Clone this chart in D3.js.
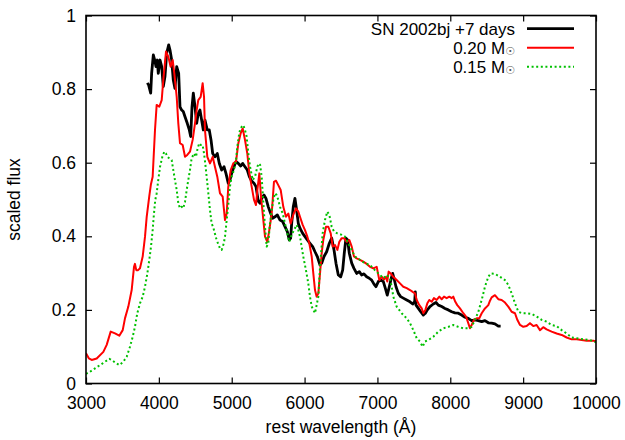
<!DOCTYPE html>
<html>
<head>
<meta charset="utf-8">
<script src="https://cdn.jsdelivr.net/npm/d3@7"></script>
<style>
  body { margin: 0; background: #fff; }
  text { font-family: "Liberation Sans", Arial, Helvetica, sans-serif; }
</style>
</head>
<body>
<svg id="chart" width="625" height="440"></svg>
<script>
// Axis ticks
const xTicks = [3000, 4000, 5000, 6000, 7000, 8000, 9000, 10000];
const yTicks = [0, 0.2, 0.4, 0.6, 0.8, 1];
const yTickLabels = ["0", "0.2", "0.4", "0.6", "0.8", "1"];

// Series names (legend)
const seriesNames = ["SN 2002bj +7 days", "0.20 M", "0.15 M"];

// Observed spectrum, SN 2002bj at +7 days
const obsWave = [3842,3860,3888,3901,3924,3943,3961,3979,3992,4016,4039,4061,4084,4107,4135,4153,4176,4198,4221,4245,4272,4290,4313,4335,4359,4390,4418,4437,4455,4473,4496,4519,4541,4564,4587,4610,4633,4665,4692,4716,4739,4770,4802,4830,4862,4894,4921,4953,4976,4999,5031,5059,5091,5123,5151,5182,5214,5242,5274,5306,5333,5365,5390,5411,5443,5470,5502,5535,5562,5594,5626,5663,5700,5731,5763,5790,5809,5823,5845,5868,5891,5914,5937,5974,6006,6038,6074,6111,6143,6175,6212,6235,6267,6303,6340,6372,6404,6431,6463,6496,6523,6545,6568,6591,6614,6647,6678,6715,6751,6783,6815,6852,6888,6921,6953,6980,7012,7045,7081,7108,7135,7163,7190,7209,7227,7255,7287,7319,7355,7402,7447,7484,7511,7520,7530,7562,7594,7630,7658,7685,7721,7767,7804,7836,7882,7927,7973,8019,8064,8110,8156,8202,8247,8293,8339,8385,8431,8476,8522,8568,8613,8659,8691];
const obsFlux = [0.817,0.811,0.789,0.843,0.893,0.879,0.861,0.879,0.843,0.879,0.861,0.807,0.834,0.897,0.920,0.906,0.879,0.825,0.802,0.861,0.843,0.752,0.743,0.739,0.725,0.707,0.689,0.671,0.752,0.789,0.752,0.707,0.734,0.743,0.716,0.689,0.716,0.689,0.689,0.662,0.625,0.616,0.625,0.598,0.580,0.589,0.571,0.544,0.553,0.571,0.589,0.603,0.598,0.591,0.598,0.589,0.580,0.562,0.550,0.544,0.535,0.495,0.490,0.503,0.512,0.503,0.480,0.462,0.449,0.453,0.458,0.444,0.440,0.426,0.413,0.390,0.395,0.435,0.480,0.503,0.471,0.435,0.422,0.408,0.399,0.390,0.381,0.372,0.358,0.345,0.322,0.327,0.345,0.358,0.381,0.395,0.363,0.327,0.295,0.290,0.308,0.354,0.395,0.390,0.354,0.327,0.313,0.299,0.304,0.295,0.298,0.290,0.286,0.281,0.270,0.263,0.277,0.281,0.277,0.259,0.240,0.263,0.286,0.299,0.286,0.263,0.245,0.236,0.232,0.227,0.222,0.216,0.222,0.249,0.213,0.204,0.195,0.186,0.191,0.200,0.209,0.216,0.220,0.213,0.209,0.204,0.200,0.195,0.192,0.191,0.186,0.180,0.177,0.171,0.173,0.171,0.168,0.171,0.165,0.164,0.162,0.156,0.156];

// Model spectrum, 0.20 solar masses
const m020Wave = [3000,3040,3078,3147,3238,3284,3339,3398,3457,3504,3535,3581,3627,3659,3672,3690,3715,3741,3778,3810,3833,3869,3890,3915,3947,3970,4006,4039,4061,4098,4130,4162,4190,4212,4245,4267,4290,4327,4359,4390,4427,4464,4496,4519,4541,4574,4601,4620,4633,4665,4702,4739,4770,4802,4839,4876,4908,4931,4953,4986,5022,5059,5091,5123,5151,5182,5214,5242,5274,5306,5333,5352,5379,5402,5434,5457,5489,5516,5549,5580,5608,5639,5672,5708,5745,5777,5809,5845,5882,5914,5937,5974,6006,6038,6065,6098,6120,6143,6166,6189,6212,6235,6257,6294,6326,6359,6386,6418,6450,6477,6510,6541,6578,6615,6647,6678,6715,6761,6806,6852,6898,6943,6990,7026,7058,7090,7117,7135,7154,7182,7217,7264,7310,7355,7402,7447,7484,7516,7539,7575,7608,7630,7658,7685,7712,7745,7776,7813,7850,7882,7914,7950,7987,8019,8041,8069,8096,8133,8179,8216,8247,8270,8293,8325,8362,8398,8431,8476,8522,8545,8568,8613,8659,8705,8751,8796,8842,8888,8920,8957,9002,9048,9094,9139,9185,9231,9276,9322,9391,9460,9529,9597,9666,9735,9803,9872,9963,10000];
const m020Flux = [0.082,0.068,0.064,0.068,0.086,0.105,0.141,0.136,0.130,0.145,0.177,0.209,0.254,0.317,0.325,0.308,0.308,0.313,0.345,0.399,0.453,0.510,0.540,0.562,0.689,0.757,0.752,0.770,0.825,0.902,0.888,0.861,0.879,0.843,0.779,0.707,0.653,0.648,0.616,0.621,0.630,0.662,0.707,0.743,0.770,0.779,0.816,0.779,0.689,0.616,0.598,0.616,0.589,0.562,0.517,0.508,0.444,0.462,0.535,0.580,0.598,0.603,0.653,0.680,0.693,0.662,0.625,0.571,0.535,0.499,0.485,0.526,0.571,0.508,0.444,0.399,0.385,0.417,0.462,0.548,0.551,0.539,0.526,0.480,0.453,0.462,0.435,0.458,0.476,0.467,0.453,0.431,0.417,0.399,0.381,0.345,0.299,0.254,0.236,0.245,0.299,0.354,0.390,0.426,0.426,0.408,0.372,0.376,0.363,0.385,0.395,0.395,0.385,0.390,0.372,0.345,0.340,0.336,0.331,0.325,0.317,0.313,0.317,0.281,0.290,0.283,0.290,0.277,0.304,0.299,0.290,0.281,0.272,0.263,0.259,0.254,0.249,0.245,0.227,0.213,0.204,0.191,0.200,0.218,0.227,0.222,0.232,0.227,0.236,0.229,0.236,0.232,0.236,0.232,0.236,0.222,0.213,0.204,0.191,0.182,0.164,0.150,0.159,0.173,0.177,0.177,0.191,0.204,0.213,0.225,0.234,0.240,0.229,0.227,0.220,0.209,0.195,0.191,0.173,0.159,0.154,0.156,0.164,0.156,0.159,0.145,0.153,0.147,0.141,0.136,0.132,0.125,0.120,0.120,0.118,0.116,0.116,0.115];

// Model spectrum, 0.15 solar masses
const m015Wave = [3000,3055,3124,3192,3261,3320,3353,3398,3457,3512,3559,3604,3641,3672,3704,3741,3778,3810,3842,3869,3892,3915,3933,3951,3970,3992,4016,4048,4075,4098,4116,4143,4176,4198,4221,4245,4267,4290,4313,4335,4359,4382,4404,4427,4450,4482,4509,4532,4555,4578,4601,4620,4637,4656,4679,4702,4724,4747,4793,4839,4862,4890,4908,4931,4953,4976,4999,5031,5059,5077,5096,5114,5137,5159,5182,5205,5228,5251,5288,5320,5352,5370,5390,5411,5434,5457,5480,5502,5525,5549,5571,5594,5617,5639,5663,5700,5731,5763,5790,5823,5855,5891,5914,5937,5960,5982,6019,6051,6074,6098,6143,6189,6212,6248,6280,6312,6340,6372,6404,6450,6510,6555,6600,6647,6692,6761,6829,6898,6966,7035,7081,7127,7172,7196,7218,7264,7333,7402,7447,7493,7539,7584,7621,7652,7698,7767,7836,7904,7973,8041,8110,8179,8247,8293,8339,8385,8431,8476,8522,8554,8613,8682,8751,8796,8842,8888,8934,8980,9048,9117,9185,9254,9322,9391,9460,9529,9597,9666,9735,9826,9918,10000];
const m015Flux = [0.026,0.032,0.041,0.050,0.059,0.067,0.064,0.057,0.050,0.059,0.073,0.100,0.127,0.154,0.191,0.218,0.236,0.263,0.299,0.336,0.372,0.417,0.462,0.499,0.517,0.553,0.589,0.616,0.630,0.625,0.616,0.612,0.607,0.580,0.553,0.526,0.490,0.476,0.480,0.476,0.494,0.526,0.553,0.580,0.612,0.625,0.616,0.639,0.653,0.648,0.648,0.625,0.598,0.562,0.517,0.471,0.435,0.424,0.390,0.367,0.363,0.380,0.399,0.444,0.485,0.535,0.562,0.580,0.607,0.644,0.671,0.689,0.698,0.702,0.689,0.671,0.625,0.590,0.553,0.562,0.589,0.598,0.594,0.562,0.490,0.426,0.372,0.381,0.435,0.471,0.499,0.517,0.512,0.499,0.480,0.462,0.435,0.408,0.385,0.404,0.417,0.431,0.417,0.399,0.372,0.345,0.308,0.272,0.236,0.209,0.191,0.236,0.317,0.408,0.444,0.467,0.458,0.426,0.413,0.408,0.404,0.399,0.381,0.363,0.345,0.336,0.327,0.322,0.308,0.295,0.286,0.295,0.285,0.263,0.236,0.209,0.191,0.177,0.164,0.145,0.123,0.114,0.100,0.114,0.118,0.127,0.141,0.150,0.154,0.159,0.154,0.150,0.150,0.154,0.173,0.195,0.227,0.263,0.290,0.299,0.298,0.290,0.281,0.268,0.245,0.218,0.195,0.191,0.191,0.189,0.182,0.173,0.168,0.159,0.156,0.145,0.136,0.125,0.123,0.120,0.118,0.112];

const svg = d3.select("#chart");
const plotL = 86, plotR = 596, plotT = 15.5, plotB = 383.5;
const fontSize = 17.5;
const legendFont = 17;

const x = d3.scaleLinear().domain([3000, 10000]).range([plotL, plotR]);
const y = d3.scaleLinear().domain([0, 1]).range([plotB, plotT]);

const zip = (w, f) => w.map((d, i) => [d, f[i]]);
const series = [
  { name: seriesNames[0], data: zip(obsWave, obsFlux), color: "#000000", width: 2.8, dash: null },
  { name: seriesNames[1], data: zip(m020Wave, m020Flux), color: "#ff0000", width: 2, dash: null },
  { name: seriesNames[2], data: zip(m015Wave, m015Flux), color: "#00c000", width: 2, dash: "2,2.6" }
];

svg.append("defs").append("clipPath").attr("id", "plotClip")
  .append("rect").attr("x", plotL).attr("y", plotT)
  .attr("width", plotR - plotL).attr("height", plotB - plotT);

// Axes with inward ticks on all four sides
function styleAxis(g) {
  g.select(".domain").remove();
  g.selectAll(".tick line").attr("stroke", "#000").attr("stroke-width", 1.2);
  g.selectAll(".tick text").attr("font-size", fontSize).attr("fill", "#000")
    .attr("font-family", '"Liberation Sans", Arial, sans-serif');
}

svg.append("g").attr("transform", `translate(0,${plotB})`)
  .call(d3.axisBottom(x).tickValues(xTicks).tickFormat(d3.format("d"))
    .tickSizeInner(-6).tickSizeOuter(0).tickPadding(13))
  .call(styleAxis);

svg.append("g").attr("transform", `translate(0,${plotT})`)
  .call(d3.axisTop(x).tickValues(xTicks).tickFormat("")
    .tickSizeInner(-6).tickSizeOuter(0))
  .call(styleAxis);

svg.append("g").attr("transform", `translate(${plotL},0)`)
  .call(d3.axisLeft(y).tickValues(yTicks).tickFormat((d, i) => yTickLabels[i])
    .tickSizeInner(-6).tickSizeOuter(0).tickPadding(10))
  .call(styleAxis);

svg.append("g").attr("transform", `translate(${plotR},0)`)
  .call(d3.axisRight(y).tickValues(yTicks).tickFormat("")
    .tickSizeInner(-6).tickSizeOuter(0))
  .call(styleAxis);

// Spectra
const line = d3.line().x(d => x(d[0])).y(d => y(d[1]));
const plot = svg.append("g").attr("clip-path", "url(#plotClip)");
series.forEach(s => {
  plot.append("path")
    .datum(s.data)
    .attr("d", line)
    .attr("fill", "none")
    .attr("stroke", s.color)
    .attr("stroke-width", s.width)
    .attr("stroke-linejoin", "round")
    .attr("stroke-dasharray", s.dash);
});

// Frame
svg.append("rect")
  .attr("x", plotL).attr("y", plotT)
  .attr("width", plotR - plotL).attr("height", plotB - plotT)
  .attr("fill", "none").attr("stroke", "#000").attr("stroke-width", 1.6);

// Legend
const legendRows = [28.7, 47.7, 66.7];
series.forEach((s, i) => {
  const t = svg.append("text")
    .attr("x", 515).attr("y", legendRows[i] + 6)
    .attr("text-anchor", "end")
    .attr("font-size", legendFont).attr("fill", "#000");
  if (i === 0) {
    t.text(s.name);
  } else {
    t.append("tspan").text(s.name);
    t.append("tspan").text("\u2609")
      .attr("font-family", '"DejaVu Sans", sans-serif')
      .attr("font-size", 11).attr("fill", "#555").attr("dy", 1.5);
  }
  svg.append("line")
    .attr("x1", 527).attr("x2", 574)
    .attr("y1", legendRows[i]).attr("y2", legendRows[i])
    .attr("stroke", s.color).attr("stroke-width", s.width)
    .attr("stroke-dasharray", s.dash);
});

// Axis titles
svg.append("text")
  .attr("x", (plotL + plotR) / 2).attr("y", 433)
  .attr("text-anchor", "middle").attr("font-size", fontSize)
  .text("rest wavelength (\u00c5)");

svg.append("text")
  .attr("transform", `translate(20,${(plotT + plotB) / 2}) rotate(-90)`)
  .attr("text-anchor", "middle").attr("font-size", fontSize)
  .text("scaled flux");
</script>
</body>
</html>
